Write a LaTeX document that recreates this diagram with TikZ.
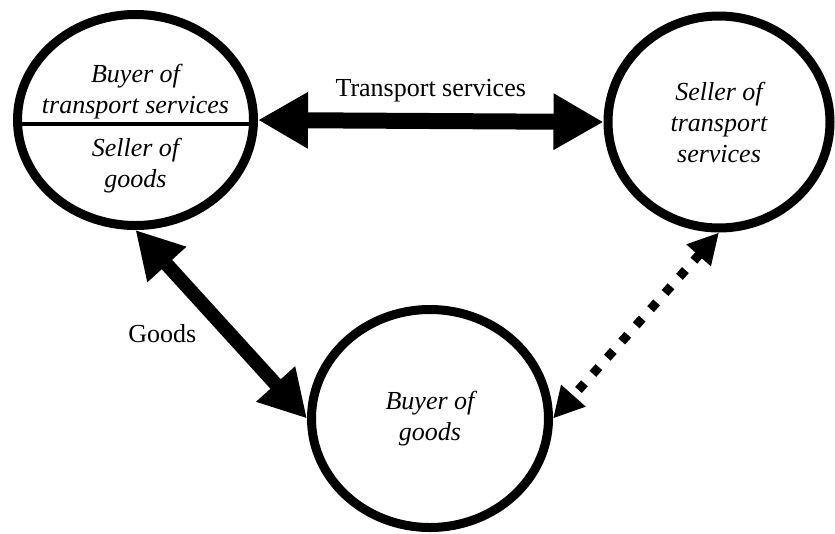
\documentclass[tikz,border=0pt]{standalone}
\usepackage{fontspec}
\setmainfont{Liberation Serif}
\newfontfamily\diagfont{Liberation Serif}
\usetikzlibrary{arrows.meta,positioning,shapes.geometric}

\begin{document}
\begin{tikzpicture}[x=0.75pt,y=-0.75pt,
  party/.style={ellipse,draw,line width=6.75pt,inner sep=0pt,align=center,
    font=\diagfont\fontsize{19.5}{23.25}\selectfont\itshape},
  txt/.style={inner sep=0pt,align=center,font=\diagfont\fontsize{19.5}{23.25}\selectfont\itshape},
  lab/.style={inner sep=0pt,font=\diagfont\fontsize{19.5}{23.25}\selectfont},
  flow/.style={{Triangle[length=37.5pt,width=39.75pt]}-{Triangle[length=37.5pt,width=39.75pt]},line width=12pt},
  goodsflow/.style={{Triangle[length=35pt,width=37pt]}-{Triangle[length=35pt,width=37pt]},line width=10.5pt},
  dotflow/.style={{Triangle[length=23pt,width=23pt]}-{Triangle[length=23pt,width=23pt]},line width=6.75pt,
    dash pattern=on 6.75pt off 9.5pt}]
\useasboundingbox (0,0) rectangle (835,533);
% the three parties
\node[party,minimum width=177pt,minimum height=158.25pt] (bt) at (135.5,120) {};
\node[party,minimum width=166.5pt,minimum height=159pt] (st) at (719,122) {Seller of\\transport\\services};
\node[party,minimum width=177.75pt,minimum height=163.5pt] (bg) at (430,418.5) {Buyer of\\goods};
% split of the left party
\draw[line width=3pt] ([yshift=-3pt]bt.west) -- ([yshift=-3pt]bt.east);
\node[txt] (bt1) at ([yshift=21.4pt]bt.center) {Buyer of\\transport services};
\node[txt] (bt2) at ([yshift=-34pt]bt.center) {Seller of\\goods};
% flows
\draw[flow] (bt.east) -- node[lab,above=8pt] (ts) {Transport services} (st.west);
\draw[goodsflow] (bt.south) -- node[lab,pos=0.55,left=20pt] (gd) {Goods} (bg.west);
\draw[dotflow] (st.south) -- (bg.east);
\end{tikzpicture}
\end{document}
